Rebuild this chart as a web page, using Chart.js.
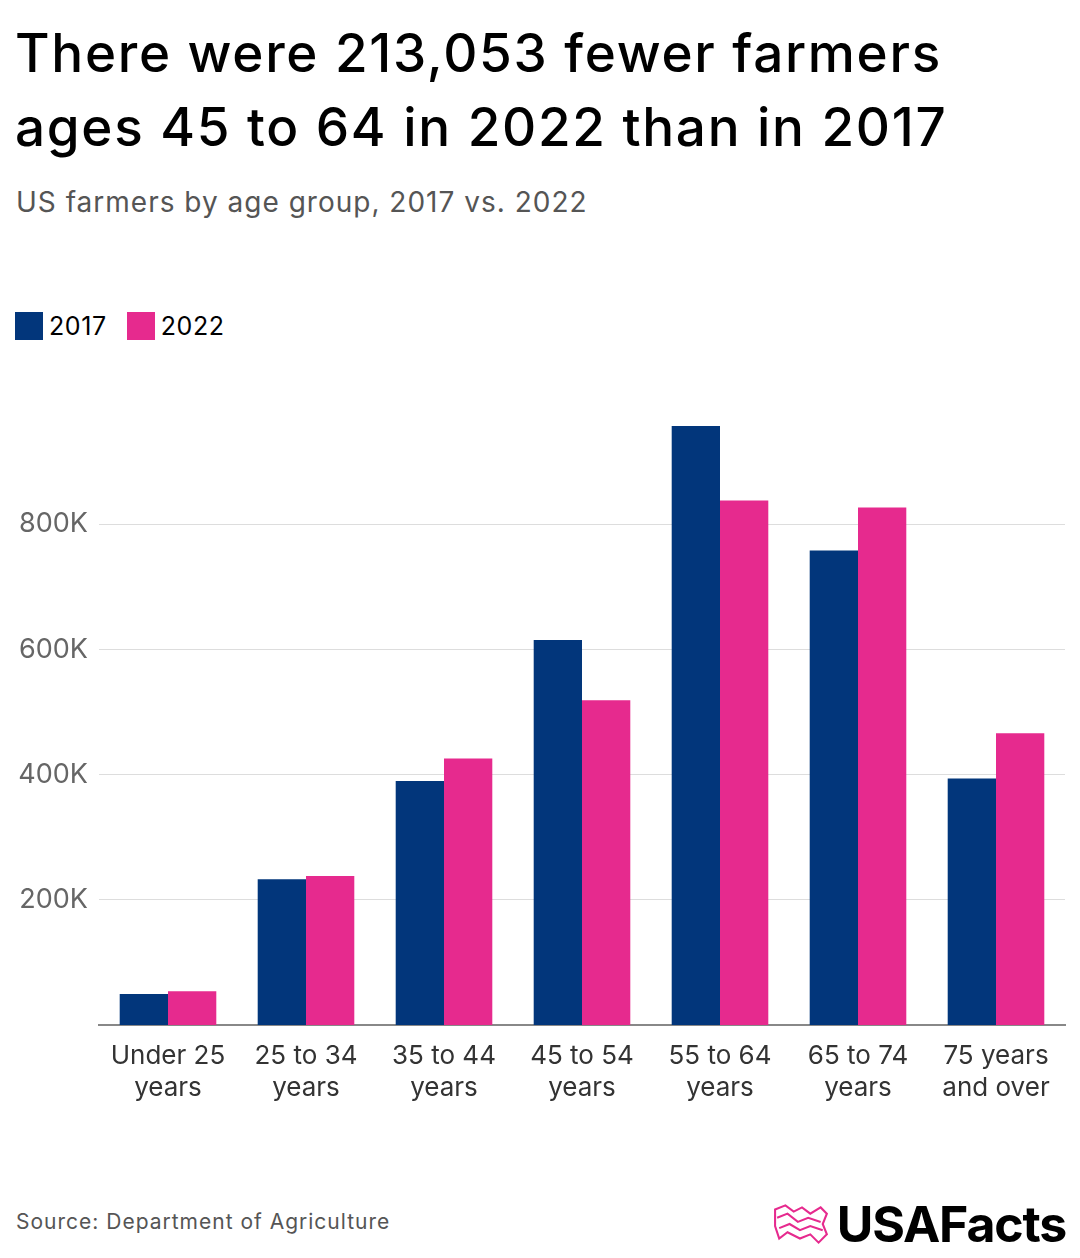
<!DOCTYPE html>
<html>
<head>
<meta charset="utf-8">
<script src="https://cdn.jsdelivr.net/npm/chart.js@4.4.1/dist/chart.umd.min.js"></script>
<style>
  body { margin: 0; background: #fff; font-family: Inter, "Noto Sans", sans-serif; }
  #wrap { position: relative; width: 1080px; height: 1258px; overflow: hidden; }
  #title { position: absolute; left: 15px; top: 16px; font-size: 53px; line-height: 74px; font-weight: 500; color: #000; letter-spacing: 1.7px; }
  #subtitle { position: absolute; left: 16px; top: 188px; font-size: 28px; line-height: 28px; color: #555; letter-spacing: 1px; }
  #legend { position: absolute; left: 15px; top: 311px; display: flex; align-items: center; font-size: 25px; color: #000; letter-spacing: 0.6px; }
  .sw { width: 28px; height: 28px; margin-right: 6px; }
  .item { display: flex; align-items: center; margin-right: 20px; }
  #chartBox { position: absolute; left: 0; top: 397px; width: 1080px; height: 723px; }
  #source { position: absolute; left: 16px; top: 1209px; font-size: 21px; color: #555; letter-spacing: 1px; }
  #logo { position: absolute; right: 14px; top: 1194px; display: flex; align-items: center; }
  #logo span { font-size: 50px; font-weight: 700; letter-spacing: -1.2px; color: #000; }
</style>
</head>
<body>
<div id="wrap">
  <div id="title">There were 213,053 fewer farmers<br>ages 45 to 64 in 2022 than in 2017</div>
  <div id="subtitle">US farmers by age group, 2017 vs. 2022</div>
  <div id="legend">
    <div class="item"><div class="sw" style="background:#02367b"></div>2017</div>
    <div class="item"><div class="sw" style="background:#e62a8e"></div>2022</div>
  </div>
  <div id="chartBox"><canvas id="chart"></canvas></div>
  <div id="source">Source: Department of Agriculture</div>
  <div id="logo">
    <svg width="58" height="42" viewBox="0 0 56 40" style="margin-right:6px">
      <path d="M2 6 L12 2 L20 8 L28 4 L36 10 L46 4 L52 10 L48 20 L52 30 L44 38 L36 30 L26 34 L14 28 L6 34 L2 22 Z" fill="none" stroke="#e62a8e" stroke-width="2"/>
      <path d="M4 14 L14 10 L24 18 L34 14 L46 18" fill="none" stroke="#e62a8e" stroke-width="2"/>
      <path d="M6 24 L16 20 L26 26 L36 22 L48 26" fill="none" stroke="#e62a8e" stroke-width="2"/>
    </svg>
    <span>USAFacts</span>
  </div>
</div>
<script>
// data
var categories = [["Under 25", "years"], ["25 to 34", "years"], ["35 to 44", "years"],
    ["45 to 54", "years"], ["55 to 64", "years"], ["65 to 74", "years"], ["75 years", "and over"]];
var farmers2017 = [49500, 233000, 390000, 615000, 957000, 758000, 394000];
var farmers2022 = [54000, 238000, 426000, 519000, 838000, 827000, 466000];
var yTicks = [200000, 400000, 600000, 800000];

var ctx = document.getElementById("chart");
var chart = new Chart(ctx, {
    type: 'bar',
    data: {
        labels: categories,
        datasets: [
            { label: '2017', data: farmers2017, backgroundColor: '#02367b' },
            { label: '2022', data: farmers2022, backgroundColor: '#e62a8e' }
        ]
    },
    options: {
        responsive: true,
        maintainAspectRatio: false,
        animation: false,
        layout: { padding: { top: 20, right: 15, left: 0, bottom: 0 } },
        plugins: { legend: { display: false }, tooltip: { enabled: false } },
        datasets: { bar: { categoryPercentage: 0.7, barPercentage: 1.0 } },
        scales: {
            x: {
                grid: { display: false },
                border: { color: '#888', width: 2 },
                ticks: { color: '#333', font: { family: 'Inter', size: 26, lineHeight: 1.23 }, padding: 7, maxRotation: 0, autoSkip: false },
                afterFit: function (scale) { scale.height = 95; }
            },
            y: {
                min: 0,
                max: 960000,
                border: { display: false },
                grid: { color: '#dddddd', lineWidth: 1, drawTicks: false },
                ticks: {
                    color: '#666',
                    font: { family: 'Inter', size: 27 },
                    padding: 11,
                    callback: function (v) { return (v / 1000) + 'K'; }
                },
                afterBuildTicks: function (scale) {
                    scale.ticks = yTicks.map(function (v) { return { value: v }; });
                },
                afterFit: function (scale) { scale.width = 99; }
            }
        }
    }
});
</script>
</body>
</html>
